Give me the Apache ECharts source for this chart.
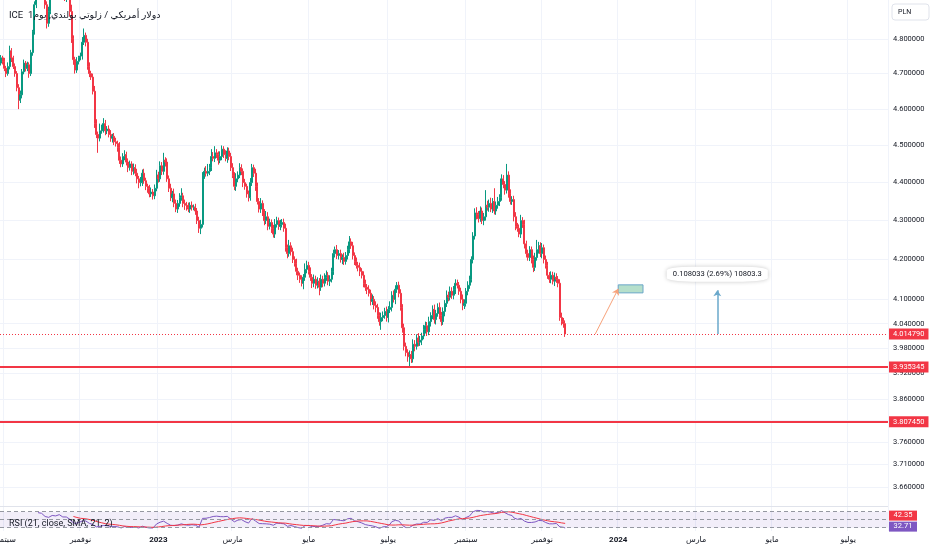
<!DOCTYPE html>
<html>
<head>
<meta charset="utf-8">
<script src="https://cdn.jsdelivr.net/npm/echarts@6/dist/echarts.min.js"></script>
<style>
  html, body { margin: 0; padding: 0; background: #fff; }
  #chart { width: 932px; height: 550px; }
</style>
</head>
<body>
<div id="chart"></div>
<script>
// USD/PLN daily (ICE) with RSI(21) pane - TradingView style snapshot

// --- data ---
var firstOpen = 4.730;
var closes = [
  4.745, 4.735, 4.715, 4.700, 4.720, 4.765, 4.745, 4.720, 4.700, 4.660,
  4.625, 4.640, 4.705, 4.730, 4.715, 4.725, 4.700, 4.760, 4.820, 4.900,
  4.950, 4.990, 5.010, 4.985, 4.960, 4.900, 4.845, 4.880, 4.930, 4.960,
  4.980, 4.955, 4.990, 5.010, 4.985, 4.945, 4.920, 4.950, 4.930, 4.880,
  4.800, 4.740, 4.710, 4.735, 4.745, 4.750, 4.790, 4.810, 4.790, 4.720,
  4.700, 4.690, 4.650, 4.560, 4.530, 4.520, 4.540, 4.545, 4.560, 4.540,
  4.545, 4.530, 4.520, 4.525, 4.510, 4.505, 4.495, 4.460, 4.450, 4.470,
  4.475, 4.455, 4.440, 4.450, 4.430, 4.440, 4.425, 4.410, 4.400, 4.400,
  4.425, 4.405, 4.390, 4.385, 4.370, 4.375, 4.365, 4.385, 4.420, 4.410,
  4.445, 4.430, 4.460, 4.455, 4.410, 4.385, 4.360, 4.370, 4.345, 4.330,
  4.345, 4.360, 4.365, 4.345, 4.340, 4.335, 4.330, 4.340, 4.335, 4.335,
  4.325, 4.300, 4.280, 4.290, 4.420, 4.430, 4.425, 4.430, 4.440, 4.470,
  4.465, 4.480, 4.475, 4.460, 4.470, 4.490, 4.475, 4.465, 4.485, 4.470,
  4.440, 4.420, 4.390, 4.410, 4.420, 4.440, 4.430, 4.400, 4.390, 4.370,
  4.360, 4.400, 4.440, 4.425, 4.390, 4.350, 4.330, 4.345, 4.320, 4.300,
  4.310, 4.285, 4.295, 4.280, 4.265, 4.290, 4.300, 4.285, 4.290, 4.295,
  4.280, 4.230, 4.215, 4.235, 4.220, 4.200, 4.190, 4.170, 4.160, 4.150,
  4.140, 4.155, 4.175, 4.185, 4.170, 4.155, 4.140, 4.150, 4.135, 4.145,
  4.130, 4.150, 4.140, 4.155, 4.160, 4.145, 4.150, 4.170, 4.215, 4.225,
  4.210, 4.215, 4.200, 4.205, 4.195, 4.210, 4.225, 4.245, 4.235, 4.210,
  4.195, 4.185, 4.180, 4.170, 4.160, 4.140, 4.130, 4.125, 4.115, 4.095,
  4.100, 4.085, 4.080, 4.060, 4.045, 4.055, 4.060, 4.070, 4.055, 4.075,
  4.080, 4.110, 4.100, 4.125, 4.135, 4.115, 4.080, 4.030, 3.985, 3.970,
  3.960, 3.965, 3.955, 3.990, 3.985, 4.005, 3.995, 4.000, 4.010, 4.025,
  4.035, 4.020, 4.045, 4.060, 4.075, 4.050, 4.065, 4.080, 4.060, 4.045,
  4.070, 4.090, 4.110, 4.105, 4.120, 4.110, 4.125, 4.140, 4.135, 4.120,
  4.100, 4.085, 4.090, 4.120, 4.135, 4.150, 4.200, 4.260, 4.320, 4.315,
  4.305, 4.325, 4.300, 4.310, 4.340, 4.335, 4.345, 4.330, 4.350, 4.325,
  4.340, 4.350, 4.360, 4.410, 4.395, 4.380, 4.420, 4.370, 4.350, 4.355,
  4.310, 4.285, 4.280, 4.265, 4.300, 4.290, 4.240, 4.215, 4.205, 4.225,
  4.200, 4.180, 4.205, 4.225, 4.235, 4.215, 4.230, 4.200, 4.185, 4.160,
  4.150, 4.160, 4.145, 4.155, 4.150, 4.140, 4.055, 4.045, 4.040, 4.01479
];
// wick lengths in thousandths above max(open, close) / below min(open, close)
var highWick = [
  8, 6, 10, 7, 12, 15, 8, 6, 9, 7,
  10, 12, 8, 10, 6, 9, 7, 8, 6, 10,
  12, 10, 15, 8, 10, 12, 10, 14, 8, 12,
  10, 12, 8, 15, 10, 8, 12, 10, 14, 12,
  20, 10, 8, 12, 6, 10, 15, 20, 8, 10,
  12, 8, 10, 15, 12, 8, 20, 12, 15, 10,
  8, 10, 12, 7, 9, 11, 8, 14, 10, 9,
  12, 8, 10, 9, 7, 11, 9, 12, 8, 15,
  10, 12, 8, 7, 9, 12, 8, 10, 14, 9,
  12, 10, 20, 8, 10, 9, 12, 8, 14, 10,
  9, 12, 20, 8, 10, 9, 12, 8, 10, 7,
  9, 8, 10, 12, 8, 10, 14, 20, 10, 20,
  12, 18, 10, 9, 14, 10, 8, 12, 10, 9,
  10, 12, 8, 15, 10, 12, 9, 8, 10, 7,
  9, 12, 10, 8, 12, 10, 9, 14, 8, 10,
  15, 12, 10, 8, 9, 14, 10, 8, 12, 9,
  10, 12, 8, 15, 9, 10, 8, 12, 9, 7,
  10, 8, 15, 12, 9, 10, 8, 12, 9, 10,
  8, 12, 9, 10, 12, 8, 10, 9, 10, 8,
  12, 9, 10, 8, 12, 9, 10, 15, 9, 10,
  8, 10, 9, 12, 8, 10, 9, 8, 10, 9,
  12, 8, 10, 9, 8, 12, 10, 9, 12, 8,
  15, 10, 12, 10, 8, 9, 10, 8, 10, 9,
  8, 10, 9, 12, 10, 9, 12, 10, 8, 12,
  10, 9, 12, 8, 10, 12, 9, 10, 12, 9,
  10, 8, 12, 9, 12, 10, 8, 10, 9, 8,
  9, 12, 10, 8, 10, 9, 8, 10, 12, 15,
  10, 12, 9, 10, 40, 12, 10, 15, 9, 35,
  10, 12, 9, 12, 10, 9, 30, 10, 12, 9,
  10, 12, 9, 10, 15, 9, 12, 8, 10, 9,
  8, 10, 12, 25, 10, 9, 12, 8, 10, 9,
  8, 10, 9, 12, 10, 8, 10, 12, 9, 8
];
var lowWick = [
  7, 9, 8, 10, 6, 8, 12, 7, 9, 10,
  25, 8, 10, 7, 9, 8, 12, 7, 9, 8,
  10, 8, 12, 10, 9, 12, 15, 10, 8, 9,
  12, 10, 9, 8, 12, 10, 9, 12, 10, 15,
  12, 15, 10, 8, 9, 7, 10, 8, 12, 9,
  10, 8, 9, 12, 10, 40, 9, 8, 10, 12,
  9, 8, 10, 12, 9, 8, 12, 10, 9, 8,
  10, 9, 12, 8, 10, 9, 8, 12, 15, 10,
  9, 8, 10, 12, 9, 8, 10, 9, 8, 10,
  8, 10, 9, 12, 8, 10, 9, 12, 10, 8,
  10, 9, 8, 10, 12, 9, 8, 10, 9, 8,
  10, 9, 12, 15, 8, 10, 9, 8, 10, 9,
  8, 10, 9, 12, 8, 10, 9, 8, 12, 10,
  9, 8, 10, 12, 9, 8, 10, 12, 9, 10,
  10, 8, 9, 10, 12, 8, 9, 10, 8, 12,
  9, 10, 8, 12, 9, 10, 8, 9, 10, 8,
  9, 10, 12, 8, 10, 9, 8, 10, 12, 9,
  8, 15, 9, 10, 8, 9, 12, 10, 9, 8,
  20, 9, 10, 8, 9, 10, 12, 8, 9, 10,
  9, 10, 8, 12, 9, 8, 10, 9, 8, 10,
  9, 8, 10, 12, 8, 10, 9, 12, 8, 10,
  9, 10, 12, 8, 10, 20, 9, 8, 10, 12,
  9, 10, 8, 12, 9, 10, 8, 12, 10, 9,
  12, 25, 10, 9, 12, 8, 10, 9, 12, 8,
  9, 10, 8, 12, 9, 10, 12, 8, 9, 10,
  8, 12, 9, 10, 8, 9, 10, 12, 8, 9,
  10, 12, 9, 8, 10, 9, 8, 10, 9, 12,
  10, 8, 9, 12, 10, 9, 12, 8, 10, 9,
  10, 9, 12, 8, 10, 12, 9, 10, 8, 9,
  12, 10, 9, 8, 10, 9, 12, 10, 8, 9,
  10, 12, 9, 8, 10, 9, 12, 10, 8, 9,
  9, 10, 8, 12, 9, 10, 8, 9, 10, 7
];

var firstDay = [2022, 7, 30];      // first bar (UTC y, m0, d)
var barCount = 502;                 // bars on the time scale incl. empty future
var monthNames = ['يناير', 'فبراير', 'مارس', 'أبريل', 'مايو', 'يونيو', 'يوليو', 'أغسطس', 'سبتمبر', 'أكتوبر', 'نوفمبر', 'ديسمبر'];
var priceTicks = [4.8, 4.7, 4.6, 4.5, 4.4, 4.3, 4.2, 4.1, 4.04, 3.98, 3.92, 3.86, 3.81, 3.76, 3.71, 3.66];
var priceRange = [3.618, 4.914];
var levelLines = [3.935345, 3.807450];
var lastPrice = 4.014790;
var rsiLen = 21, rsiSmaLen = 21;
var rsiLevels = [70, 50, 30];
var rsiRange = [21.75, 81.75];
var rsiTagValues = [42.35, 32.71];   // SMA, RSI as printed on the scale

// drawings: [bar index, price]
var arrowStart = [336, 4.0148], arrowEnd = [349, 4.126];
var boxStart = [349, 4.136], boxEnd = [363, 4.116];
var measureBar = 405, measureFrom = 4.014790, measureTo = 4.122823;
var measureText = '0.108033 (2.69%) 10803.3';
var titleText = 'ICE  دولار أمريكي / زلوتي بولندي, يوم1';
var rsiTitle = 'RSI (21, close, SMA, 21, 2)';

// --- build ---
var UP = '#089981', DOWN = '#F23645', GRID = '#F0F3FA', TEXT = '#131722';
var FONT = 'Roboto, "Liberation Sans", "DejaVu Sans", sans-serif';
var ln = Math.log;

var dates = [];
var d = new Date(Date.UTC(firstDay[0], firstDay[1], firstDay[2]));
while (dates.length < barCount) {
  var wd = d.getUTCDay();
  if (wd !== 0 && wd !== 6) dates.push(d.toISOString().slice(0, 10));
  d.setUTCDate(d.getUTCDate() + 1);
}
function isLabelDay(i) {
  if (i === 0) return false;
  var m = +dates[i].slice(5, 7);
  return m !== +dates[i - 1].slice(5, 7) && m % 2 === 1;
}
function dateLabel(v) {
  var m = +v.slice(5, 7);
  return m === 1 ? '{y|' + v.slice(0, 4) + '}' : monthNames[m - 1];
}

var candles = closes.map(function (c, i) {
  var o = i === 0 ? firstOpen : closes[i - 1];
  var hi = Math.max(o, c) + highWick[i] / 1000;
  var lo = Math.min(o, c) - lowWick[i] / 1000;
  return [ln(o), ln(c), ln(lo), ln(hi)];
});

// RSI with Wilder smoothing, then SMA of RSI
var rsi = closes.map(function () { return null; });
var au = 0, ad = 0;
for (var i = 1; i < closes.length; i++) {
  var ch = closes[i] - closes[i - 1];
  var u = Math.max(ch, 0), dn = Math.max(-ch, 0);
  if (i <= rsiLen) {
    au += u / rsiLen; ad += dn / rsiLen;
    if (i < rsiLen) continue;
  } else {
    au = (au * (rsiLen - 1) + u) / rsiLen;
    ad = (ad * (rsiLen - 1) + dn) / rsiLen;
  }
  rsi[i] = ad === 0 ? 100 : 100 - 100 / (1 + au / ad);
}
var rsiSma = rsi.map(function (v, i) {
  if (i < rsiSmaLen - 1) return null;
  var s = 0;
  for (var k = i - rsiSmaLen + 1; k <= i; k++) {
    if (rsi[k] == null) return null;
    s += rsi[k];
  }
  return s / rsiSmaLen;
});

function priceTag(color) {
  return {
    show: true, position: 'end', distance: 1,
    formatter: function (p) { return Math.exp(p.value).toFixed(6); },
    backgroundColor: color, color: '#fff', padding: [1, 4, 1, 4],
    fontFamily: FONT, fontSize: 7.5, lineHeight: 9
  };
}

var chart = echarts.init(document.getElementById('chart'), null, { renderer: 'canvas' });
chart.setOption({
  animation: false,
  backgroundColor: '#fff',
  title: [
    { text: titleText, left: 4, top: 6, textStyle: { fontFamily: FONT, fontSize: 9.5, fontWeight: 'normal', color: TEXT } },
    { text: rsiTitle, left: 4, top: 514, textStyle: { fontFamily: FONT, fontSize: 9, fontWeight: 'normal', color: TEXT } }
  ],
  grid: [
    { left: 0, right: 44, top: 0, height: 506, outerBoundsMode: 'none' },
    { left: 0, right: 44, top: 507, height: 24, outerBoundsMode: 'none' }
  ],
  xAxis: [
    {
      type: 'category', gridIndex: 0, data: dates,
      axisLine: { show: true, lineStyle: { color: '#E0E3EB' } },
      axisTick: { show: false }, axisLabel: { show: false },
      splitLine: { show: true, interval: isLabelDay, lineStyle: { color: GRID } }
    },
    {
      type: 'category', gridIndex: 1, data: dates,
      axisLine: { show: false }, axisTick: { show: false },
      axisLabel: {
        interval: isLabelDay, formatter: dateLabel, margin: 5,
        fontFamily: FONT, fontSize: 8, color: TEXT,
        rich: { y: { fontFamily: FONT, fontSize: 8, fontWeight: 'bold', color: TEXT } }
      },
      splitLine: { show: true, interval: isLabelDay, lineStyle: { color: GRID } }
    }
  ],
  yAxis: [
    {
      type: 'value', gridIndex: 0, position: 'right', scale: true,
      min: ln(priceRange[0]), max: ln(priceRange[1]),
      axisLine: { show: false },
      axisTick: { show: false, customValues: priceTicks.map(ln) },
      axisLabel: {
        customValues: priceTicks.map(ln), margin: 5,
        formatter: function (v) { return Math.exp(v).toFixed(6); },
        fontFamily: FONT, fontSize: 7.5, color: TEXT
      },
      splitLine: { show: true, lineStyle: { color: GRID } }
    },
    {
      type: 'value', gridIndex: 1, position: 'right',
      min: rsiRange[0], max: rsiRange[1],
      axisLine: { show: false }, axisTick: { show: false },
      axisLabel: { show: false }, splitLine: { show: false }
    }
  ],
  series: [
    {
      type: 'candlestick', xAxisIndex: 0, yAxisIndex: 0,
      data: candles, barWidth: 1.5, clip: true,
      itemStyle: { color: UP, color0: DOWN, borderColor: UP, borderColor0: DOWN, borderWidth: 1 },
      markLine: {
        silent: true, symbol: ['none', 'none'], precision: 10, animation: false,
        data: [
          { yAxis: ln(lastPrice), lineStyle: { color: DOWN, width: 1, type: [1, 2] }, label: priceTag(DOWN) },
          { yAxis: ln(levelLines[0]), lineStyle: { color: DOWN, width: 2, type: 'solid' }, label: priceTag(DOWN) },
          { yAxis: ln(levelLines[1]), lineStyle: { color: DOWN, width: 2, type: 'solid' }, label: priceTag(DOWN) },
          [
            { coord: [arrowStart[0], ln(arrowStart[1])], symbol: 'none' },
            { coord: [arrowEnd[0], ln(arrowEnd[1])], symbol: 'arrow', symbolSize: 6,
              lineStyle: { color: '#F7A27A', width: 1, type: 'solid' }, label: { show: false } }
          ],
          [
            { coord: [measureBar, ln(measureFrom)], symbol: 'none' },
            { coord: [measureBar, ln(measureTo)], symbol: 'arrow', symbolSize: 6,
              lineStyle: { color: '#6AA8CB', width: 1.5, type: 'solid' }, label: { show: false } }
          ]
        ]
      },
      markArea: {
        silent: true,
        itemStyle: { color: '#B5DFCB', borderColor: '#6AA6C8', borderWidth: 1 },
        data: [[{ coord: [boxStart[0], ln(boxStart[1])] }, { coord: [boxEnd[0], ln(boxEnd[1])] }]]
      },
      markPoint: {
        silent: true, symbol: 'roundRect', symbolSize: [101, 15], symbolOffset: [0, -16],
        itemStyle: { color: '#fff', shadowBlur: 4, shadowColor: 'rgba(0,0,0,0.22)' },
        label: { show: true, position: 'inside', formatter: measureText, fontFamily: FONT, fontSize: 7.6, color: TEXT },
        data: [{ coord: [measureBar, ln(measureTo)] }]
      }
    },
    {
      type: 'line', xAxisIndex: 1, yAxisIndex: 1, data: rsi,
      symbol: 'none', lineStyle: { color: '#7E57C2', width: 1 },
      markArea: {
        silent: true, itemStyle: { color: 'rgba(126,87,194,0.1)' },
        data: [[{ yAxis: rsiLevels[2] }, { yAxis: rsiLevels[0] }]]
      },
      markLine: {
        silent: true, symbol: ['none', 'none'], label: { show: false },
        lineStyle: { color: '#9598A1', width: 1, type: [4, 3] },
        data: rsiLevels.map(function (v) { return { yAxis: v }; })
      }
    },
    {
      type: 'line', xAxisIndex: 1, yAxisIndex: 1, data: rsiSma,
      symbol: 'none', lineStyle: { color: DOWN, width: 1 }
    }
  ]
});

// scale badges: currency box and RSI value tags
function scaleTag(y, text, color) {
  return {
    type: 'group', x: 889, y: y - 5,
    children: [
      { type: 'rect', shape: { x: 0, y: 0, width: 28, height: 10 }, style: { fill: color } },
      { type: 'text', x: 14, y: 5, style: { text: text, fill: '#fff', font: '7.5px ' + FONT, align: 'center', verticalAlign: 'middle' } }
    ]
  };
}
var rsiY = chart.convertToPixel({ yAxisIndex: 1 }, rsiTagValues[1]);
var smaY = Math.min(chart.convertToPixel({ yAxisIndex: 1 }, rsiTagValues[0]), rsiY - 11);
chart.setOption({
  graphic: [
    {
      type: 'group', x: 892, y: 4,
      children: [
        { type: 'rect', shape: { x: 0, y: 0, width: 37, height: 16, r: 3 }, style: { fill: '#fff', stroke: '#E0E3EB', lineWidth: 1 } },
        { type: 'text', x: 6, y: 8, style: { text: 'PLN', fill: TEXT, font: '7px ' + FONT, verticalAlign: 'middle' } }
      ]
    },
    scaleTag(smaY, rsiTagValues[0].toFixed(2), DOWN),
    scaleTag(rsiY, rsiTagValues[1].toFixed(2), '#7E57C2')
  ]
});
window.addEventListener('resize', function () { chart.resize(); });
</script>
</body>
</html>
